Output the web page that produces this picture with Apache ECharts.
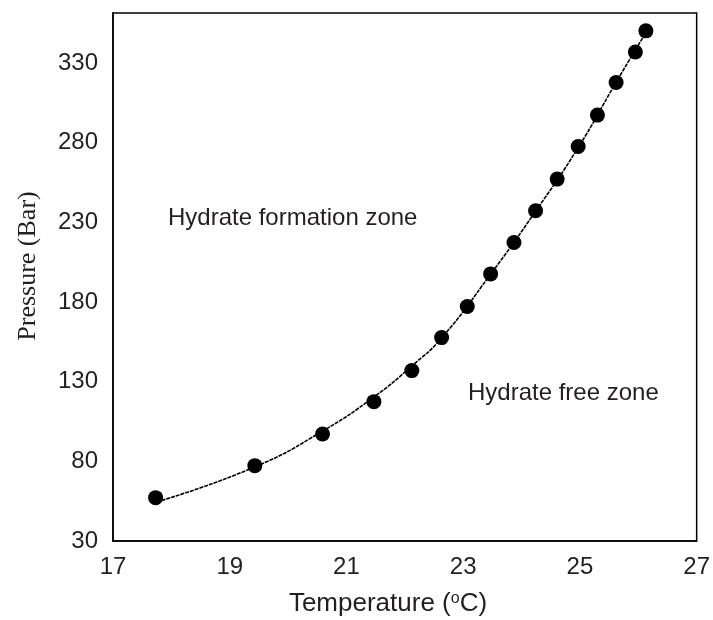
<!DOCTYPE html>
<html>
<head>
<meta charset="utf-8">
<script src="https://cdn.jsdelivr.net/npm/echarts@6/dist/echarts.min.js"></script>
<style>
html,body{margin:0;padding:0;background:#fff;}
#chart{width:713px;height:620px;}
</style>
</head>
<body>
<div id="chart"></div>
<script>
// Measured hydrate equilibrium points
var temperature = [17.73, 19.43, 20.59, 21.47, 22.12, 22.63, 23.07, 23.47, 23.87, 24.24, 24.61, 24.97, 25.30, 25.62, 25.95, 26.13];
var pressure    = [57.2, 77.3, 97.2, 117.5, 137.0, 157.7, 177.2, 197.7, 217.4, 237.3, 257.2, 277.7, 297.4, 317.9, 337.0, 350.3];
// Fitted curve
var fitTemperature = [17.75, 19.43, 20.59, 21.47, 22.12, 22.63, 23.47, 24.24, 24.97, 25.62, 26.17];
var fitPressure    = [54.5, 76.5, 99.0, 120.4, 139.9, 157.5, 197.5, 237.0, 277.0, 318.0, 351.6];
var xTicks = [17, 19, 21, 23, 25, 27];
var yTicks = [30, 80, 130, 180, 230, 280, 330];

var pts = temperature.map(function (t, i) { return [t, pressure[i]]; });
var fit = fitTemperature.map(function (t, i) { return [t, fitPressure[i]]; });

var chart = echarts.init(document.getElementById('chart'), null, {renderer: 'canvas'});
var txt = '#231f20';
chart.setOption({
  backgroundColor: '#fff',
  animation: false,
  grid: {left: 113, right: 12, top: 13, bottom: 79, show: true, borderColor: '#000', borderWidth: 1.5, backgroundColor: 'transparent'},
  xAxis: {
    type: 'value', min: xTicks[0], max: xTicks[xTicks.length - 1], interval: 2,
    axisLine: {show: true, lineStyle: {color: '#000', width: 1.5}},
    axisTick: {show: false},
    splitLine: {show: false},
    axisLabel: {color: txt, fontSize: 24, fontFamily: 'Liberation Sans', margin: 14}
  },
  yAxis: {
    type: 'value', min: yTicks[0], max: 361.5, interval: 50,
    axisLine: {show: true, lineStyle: {color: '#000', width: 1.5}},
    axisTick: {show: false},
    splitLine: {show: false},
    axisLabel: {color: txt, fontSize: 24, fontFamily: 'Liberation Sans', margin: 15, showMaxLabel: false,
      formatter: function (v) { return yTicks.indexOf(v) >= 0 ? String(v) : ''; }}
  },
  series: [
    {type: 'line', data: fit, smooth: true, showSymbol: false, z: 1,
      lineStyle: {color: '#000', width: 1.6, type: [4, 1]}},
    {type: 'scatter', data: pts, symbol: 'circle', symbolSize: 15, z: 2,
      itemStyle: {color: '#000', opacity: 1}}
  ],
  graphic: [
    {type: 'text', left: 168, top: 220 - 14, style: {text: 'Hydrate formation zone', fill: txt, font: '24px "Liberation Sans"'}},
    {type: 'text', left: 468, top: 395 - 14, style: {text: 'Hydrate free zone', fill: txt, font: '24px "Liberation Sans"'}},
    {type: 'text', x: 388, y: 604, style: {
      text: '{a|Temperature (}{s|o}{a|C)}',
      align: 'center', verticalAlign: 'middle',
      rich: {
        a: {fontSize: 26, fontFamily: 'Liberation Sans', fill: txt, color: txt},
        s: {fontSize: 16, fontFamily: 'Liberation Sans', fill: txt, color: txt, verticalAlign: 'top', padding: [0, 0, 10, 0]}
      }}},
    {type: 'text', x: 28, y: 266, rotation: Math.PI / 2, style: {
      text: 'Pressure (Bar)', fill: txt, align: 'center', verticalAlign: 'middle',
      font: '26px "Liberation Serif"'}}
  ]
});
</script>
</body>
</html>
